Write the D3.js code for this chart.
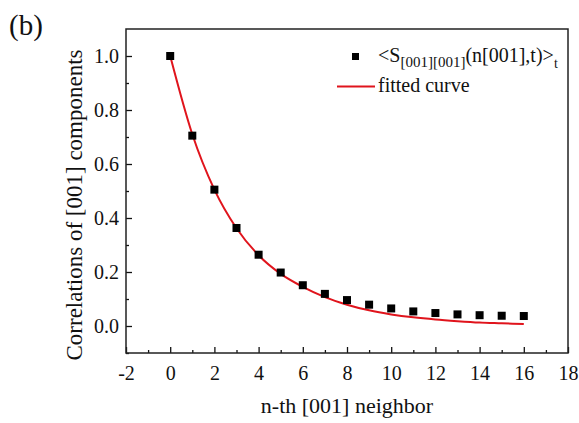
<!DOCTYPE html>
<html>
<head>
<meta charset="utf-8">
<script src="https://cdn.jsdelivr.net/npm/d3@7"></script>
<style>
  html, body { margin: 0; padding: 0; background: #fff; }
  svg { display: block; }
  svg text { font-family: "Liberation Serif", "Times New Roman", serif !important; }
</style>
</head>
<body>
<svg id="chart" width="579" height="423"></svg>
<script>
// Neighbor index along [001]
const neighbors = [0, 1, 2, 3, 4, 5, 6, 7, 8, 9, 10, 11, 12, 13, 14, 15, 16];
// Time-averaged correlation <S_[001][001](n[001],t)>_t
const correlation = [1.0, 0.705, 0.505, 0.363, 0.264, 0.198, 0.151, 0.119, 0.096,
                     0.079, 0.065, 0.054, 0.048, 0.043, 0.040, 0.038, 0.037];
// Fitted curve sampled at each neighbor
const fitted = [1.0, 0.71, 0.505, 0.362, 0.262, 0.193, 0.145, 0.107, 0.079,
                0.058, 0.043, 0.032, 0.024, 0.018, 0.013, 0.010, 0.007];
// Axis ticks
const xTicks = [-2, 0, 2, 4, 6, 8, 10, 12, 14, 16, 18];
const xMinor = [-1, 1, 3, 5, 7, 9, 11, 13, 15, 17];
const yTicks = [0.0, 0.2, 0.4, 0.6, 0.8, 1.0];
const yMinor = [-0.1, 0.1, 0.3, 0.5, 0.7, 0.9];

const svg = d3.select("#chart");
const plotLeft = 126, plotRight = 568, plotTop = 29, plotBottom = 353;

const x = d3.scaleLinear().domain([-2, 18]).range([plotLeft, plotRight]);
const y = d3.scaleLinear().domain([-0.1, 1.1]).range([plotBottom, plotTop]);

const red = "#e0141c";

// Axes with inward ticks; labels use a plain hyphen for negatives
const axisBottom = d3.axisBottom(x).tickValues(xTicks).tickSizeInner(-6).tickSizeOuter(0)
  .tickFormat(d => String(d));
const gx = svg.append("g").attr("transform", `translate(0,${plotBottom})`).call(axisBottom);
gx.select(".domain").remove();
gx.selectAll(".tick line").attr("stroke", "#111").attr("stroke-width", 1.3);
gx.selectAll(".tick text").attr("y", 13).attr("dy", "0.71em")
  .attr("font-size", 20).attr("fill", "#111");

const axisBottomMinor = d3.axisBottom(x).tickValues(xMinor).tickSizeInner(-3).tickSizeOuter(0).tickFormat("");
const gxm = svg.append("g").attr("transform", `translate(0,${plotBottom})`).call(axisBottomMinor);
gxm.select(".domain").remove();
gxm.selectAll(".tick line").attr("stroke", "#111").attr("stroke-width", 1.3);

const axisLeft = d3.axisLeft(y).tickValues(yTicks).tickSizeInner(-6).tickSizeOuter(0)
  .tickFormat(d => d.toFixed(1));
const gy = svg.append("g").attr("transform", `translate(${plotLeft},0)`).call(axisLeft);
gy.select(".domain").remove();
gy.selectAll(".tick line").attr("stroke", "#111").attr("stroke-width", 1.3);
gy.selectAll(".tick text").attr("x", -7).attr("font-size", 20).attr("fill", "#111");

const axisLeftMinor = d3.axisLeft(y).tickValues(yMinor).tickSizeInner(-3).tickSizeOuter(0).tickFormat("");
const gym = svg.append("g").attr("transform", `translate(${plotLeft},0)`).call(axisLeftMinor);
gym.select(".domain").remove();
gym.selectAll(".tick line").attr("stroke", "#111").attr("stroke-width", 1.3);

// Plot frame
svg.append("rect")
  .attr("x", plotLeft).attr("y", plotTop)
  .attr("width", plotRight - plotLeft).attr("height", plotBottom - plotTop)
  .attr("fill", "none").attr("stroke", "#222").attr("stroke-width", 1.5);

// Fitted curve
const line = d3.line()
  .x((d, i) => x(neighbors[i]))
  .y(d => y(d))
  .curve(d3.curveMonotoneX);
svg.append("path")
  .datum(fitted)
  .attr("d", line)
  .attr("fill", "none")
  .attr("stroke", red)
  .attr("stroke-width", 2);

// Data squares
const sq = 8;
svg.append("g").selectAll("rect")
  .data(correlation)
  .join("rect")
  .attr("x", (d, i) => x(neighbors[i]) - sq / 2)
  .attr("y", d => y(d) - sq / 2)
  .attr("width", sq).attr("height", sq)
  .attr("fill", "#000");

// Legend
const legend = svg.append("g");
legend.append("rect")
  .attr("x", 352).attr("y", 53).attr("width", 7).attr("height", 7).attr("fill", "#000");
const lt = legend.append("text")
  .attr("x", 378).attr("y", 62).attr("font-size", 20).attr("fill", "#111");
lt.append("tspan").text("<S");
lt.append("tspan").attr("font-size", 15).attr("dy", 5).text("[001][001]");
lt.append("tspan").attr("dy", -5).text("(n[001],t)>");
lt.append("tspan").attr("font-size", 14).attr("dy", 6).text("t");

legend.append("line")
  .attr("x1", 337).attr("x2", 375).attr("y1", 86.5).attr("y2", 86.5)
  .attr("stroke", red).attr("stroke-width", 2);
legend.append("text")
  .attr("x", 378).attr("y", 92).attr("font-size", 20).attr("fill", "#111")
  .text("fitted curve");

// Axis titles
svg.append("text")
  .attr("x", (plotLeft + plotRight) / 2).attr("y", 413)
  .attr("text-anchor", "middle").attr("font-size", 22).attr("fill", "#111")
  .text("n-th [001] neighbor");

svg.append("text")
  .attr("transform", "translate(82,205) rotate(-90)")
  .attr("text-anchor", "middle").attr("font-size", 23).attr("fill", "#111")
  .text("Correlations of [001] components");

// Panel label
svg.append("text")
  .attr("x", 9).attr("y", 35).attr("font-size", 29).attr("fill", "#111")
  .text("(b)");
</script>
</body>
</html>
